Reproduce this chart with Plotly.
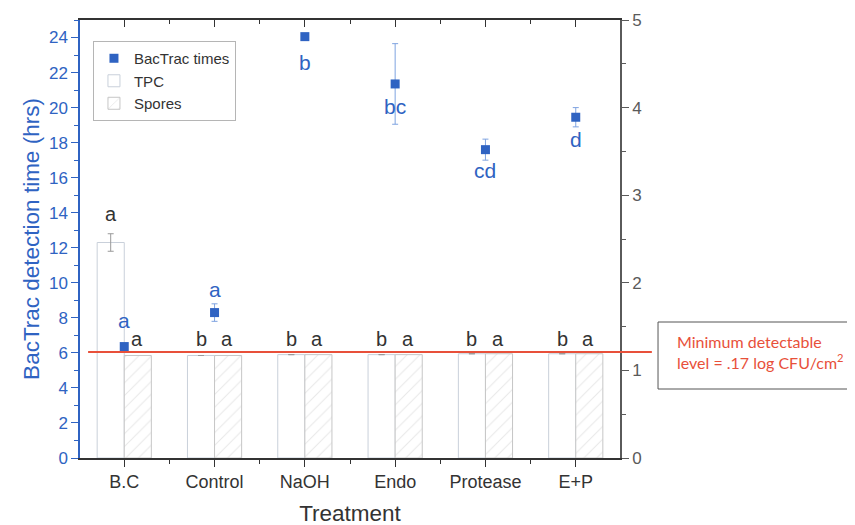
import plotly.graph_objects as go

categories = ["B.C", "Control", "NaOH", "Endo", "Protease", "E+P"]
bactrac_times = [6.36, 8.3, 24.05, 21.35, 17.6, 19.45]
bactrac_err = [0.0, 0.5, 0.0, 2.3, 0.6, 0.55]
tpc_log = [2.46, 1.17, 1.18, 1.18, 1.19, 1.19]
tpc_err = [0.1, 0, 0, 0, 0, 0]
spores_log = [1.17, 1.17, 1.18, 1.18, 1.19, 1.19]
bactrac_letters = ["a", "a", "b", "bc", "cd", "d"]
bactrac_letter_y = [7.85, 9.6, 22.6, 20.07, 16.4, 18.17]
tpc_letters = ["a", "b", "b", "b", "b", "b"]
tpc_letter_y = [13.9, 6.8, 6.8, 6.8, 6.8, 6.8]
spores_letters = ["a", "a", "a", "a", "a", "a"]
spores_letter_y = [6.8, 6.8, 6.8, 6.8, 6.8, 6.8]
detect_level = 6.05  # on left axis scale

BLUE = "#2f63c2"
GREY = "#5a5a5a"
RED = "#e8503a"
FONT = "Arial, Liberation Sans, sans-serif"

xs = list(range(len(categories)))

fig = go.Figure()

fig.add_trace(go.Scatter(
    x=xs, y=bactrac_times, mode="markers", name="BacTrac times",
    marker=dict(symbol="square", size=9, color=BLUE),
    error_y=dict(type="data", array=bactrac_err, color="#7fa3e0", thickness=1, width=3),
    xaxis="x", yaxis="y2",
))
fig.add_trace(go.Bar(
    x=xs, y=tpc_log, name="TPC",
    marker=dict(color="white", line=dict(color="#c9d0da", width=1)),
    error_y=dict(type="data", array=tpc_err, color="#999999", thickness=1, width=3),
    xaxis="x", yaxis="y",
))
fig.add_trace(go.Bar(
    x=xs, y=spores_log, name="Spores",
    marker=dict(color="white", line=dict(color="#c6c6c6", width=1),
                pattern=dict(shape="/", fgcolor="#d2d2d2", bgcolor="white", size=9, solidity=0.12)),
    xaxis="x", yaxis="y",
))
# invisible trace for top mirrored axis
fig.add_trace(go.Scatter(x=xs, y=bactrac_times, xaxis="x2", yaxis="y2", mode="markers",
                         marker=dict(opacity=0), showlegend=False, hoverinfo="skip"))

annotations = []
for i in xs:
    annotations.append(dict(x=i, y=bactrac_letter_y[i], xref="x", yref="y2", text=bactrac_letters[i],
                            showarrow=False, font=dict(size=21, color=BLUE, family=FONT)))
    annotations.append(dict(x=i - 0.15, y=tpc_letter_y[i], xref="x", yref="y2", text=tpc_letters[i],
                            showarrow=False, font=dict(size=20, color="#333333", family=FONT)))
    annotations.append(dict(x=i + 0.14, y=spores_letter_y[i], xref="x", yref="y2", text=spores_letters[i],
                            showarrow=False, font=dict(size=20, color="#333333", family=FONT)))

annotations.append(dict(x=1.102, y=0.242, xref="paper", yref="paper", xanchor="left", yanchor="middle",
                        align="left", showarrow=False,
                        text="Minimum detectable<br>level = .17 log CFU/cm<sup>2</sup>",
                        font=dict(size=16, color=RED, family="Lato, Open Sans, sans-serif")))

shapes = [
    dict(type="line", xref="paper", yref="y2", x0=0.015, x1=1.059, y0=detect_level, y1=detect_level,
         line=dict(color=RED, width=2)),
    dict(type="rect", xref="paper", yref="paper", x0=1.0704, x1=1.45, y0=0.1575, y1=0.3105,
         line=dict(color="#555555", width=1), fillcolor="rgba(0,0,0,0)"),
]

fig.update_layout(
    width=855, height=525,
    margin=dict(l=72, r=243, t=12, b=75),
    paper_bgcolor="white", plot_bgcolor="white",
    barmode="group", bargap=0.4, bargroupgap=0,
    font=dict(family=FONT),
    showlegend=True,
    legend=dict(x=0.024, y=0.952, xanchor="left", yanchor="top",
                bordercolor="#b5b5b5", borderwidth=1, bgcolor="white",
                font=dict(size=15, color="#333333", family=FONT), tracegroupgap=0),
    xaxis=dict(range=[-0.49, 5.49], tickvals=xs, ticktext=categories, automargin=False,
               showline=True, linecolor="#333333", linewidth=1.5,
               ticks="outside", ticklen=7, tickcolor="#333333",
               minor=dict(dtick=0.5, tick0=0.5, ticks="outside", ticklen=4, tickcolor="#333333"),
               tickfont=dict(size=18, color="#333333"),
               title=dict(text="Treatment", font=dict(size=22.5, color="#333333"), standoff=14),
               showgrid=False, zeroline=False),
    xaxis2=dict(range=[-0.49, 5.49], overlaying="x", side="top", tickvals=xs, automargin=False,
                showticklabels=False, showline=True, linecolor="#333333", linewidth=1.5,
                ticks="inside", ticklen=7, tickcolor="#333333",
                minor=dict(dtick=0.5, tick0=0.5, ticks="inside", ticklen=4, tickcolor="#333333"),
                showgrid=False, zeroline=False),
    yaxis=dict(range=[0, 5], side="right", dtick=1, showline=True, linecolor=GREY, linewidth=1.5,
               automargin=False, ticks="outside", ticklen=7, tickcolor=GREY,
               minor=dict(dtick=0.5, ticks="outside", ticklen=4, tickcolor=GREY),
               tickfont=dict(size=17, color=GREY), showgrid=False, zeroline=False),
    yaxis2=dict(range=[0, 25], overlaying="y", side="left", dtick=2, automargin=False,
                showline=True, linecolor=BLUE, linewidth=1.5,
                ticks="outside", ticklen=7, tickcolor=BLUE,
                minor=dict(dtick=1, ticks="outside", ticklen=4, tickcolor=BLUE),
                tickfont=dict(size=17, color=BLUE),
                title=dict(text="BacTrac detection time (hrs)", font=dict(size=22.5, color=BLUE), standoff=3),
                showgrid=False, zeroline=False),
    annotations=annotations,
    shapes=shapes,
)

fig.write_html("out.html")
